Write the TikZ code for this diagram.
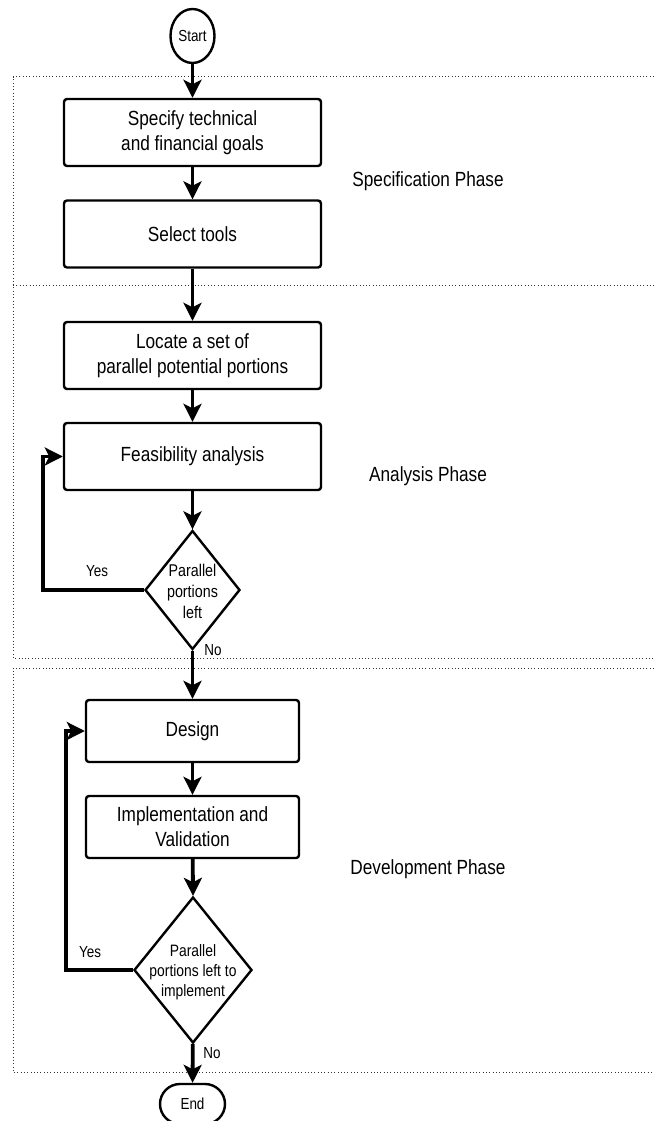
\documentclass[tikz,border=0pt]{standalone}
\usepackage{fontspec}
\setmainfont{Liberation Sans}[FakeStretch=0.84]
\usetikzlibrary{arrows.meta,shapes.geometric,shapes.misc}
\tikzset{
  box/.style={draw, line width=2.4pt, rounded corners=3pt, minimum width=257pt, minimum height=67pt, inner sep=0pt, align=center, font=\fontsize{20.5}{25}\selectfont},
  boxs/.style={box, minimum width=213pt, minimum height=62pt},
  dia/.style={draw, diamond, line width=2.4pt, inner sep=0pt},
  diatext/.style={align=center, inner sep=0pt},
  arr/.style={line width=3.8pt, -{Stealth[length=18pt,width=18pt,inset=4.5pt]}},
  loop/.style={arr, rounded corners=0pt},
  region/.style={line width=1pt, dash pattern=on 1pt off 2.3pt, black!80},
  phase/.style={font=\fontsize{20.5}{25}\selectfont},
  yn/.style={font=\fontsize{16}{19}\selectfont, inner sep=0pt}
}
\begin{document}
\begin{tikzpicture}[x=1pt,y=-1pt]
\useasboundingbox (0,0) rectangle (654,1121);
\fill[white] (0,0) rectangle (654,1121);
\begin{scope}
\clip (0,0) rectangle (654,1121);
% phase regions
\draw[region] (654,77) -- (13,77) -- (13,658) -- (654,658);
\draw[region] (13,285) -- (654,285);
\draw[region] (654,668) -- (13,668) -- (13,1072) -- (654,1072);

% nodes
\node[draw, ellipse, line width=2.4pt, minimum width=44pt, minimum height=54pt, inner sep=0pt, font=\fontsize{16}{19}\selectfont] (start) at (192.5,36) {Start};
\node[box] (b1) at (192.5,132.5) {Specify technical\\and financial goals};
\node[box] (b2) at (192.5,234) {Select tools};
\node[box] (b3) at (192.5,355.5) {Locate a set of\\parallel potential portions};
\node[box] (b4) at (192.5,456.5) {Feasibility analysis};
\node[dia, minimum width=95pt, minimum height=119pt] (d1) at (192.5,590) {};
\node[diatext, font=\fontsize{17}{21}\selectfont] (d1t) at (192.5,591) {Parallel\\portions\\left};
\node[boxs] (b5) at (192.5,731) {Design};
\node[boxs] (b6) at (192.5,827) {Implementation and\\Validation};
\node[dia, minimum width=118pt, minimum height=146pt] (d2) at (193,970) {};
\node[diatext, font=\fontsize{16.5}{20}\selectfont] (d2t) at (193,972) {Parallel\\portions left to\\implement};
\node[draw, rounded rectangle, line width=2.4pt, minimum width=65pt, minimum height=40pt, inner sep=0pt, font=\fontsize{16}{19}\selectfont] (end) at (192.5,1104) {End};

% phase labels
\node[phase] (p1) at (428,181) {Specification Phase};
\node[phase] (p2) at (428,476) {Analysis Phase};
\node[phase] (p3) at (428,869) {Development Phase};

% yes/no labels
\node[yn] (y1l) at (97,571) {Yes};
\node[yn] (n1l) at (213,650) {No};
\node[yn] (y2l) at (90,952) {Yes};
\node[yn] (n2l) at (212,1053) {No};

% connectors
\draw[arr] (start) -- (b1);
\draw[arr] (b1) -- (b2);
\draw[arr] (b2) -- (b3);
\draw[arr] (b3) -- (b4);
\draw[arr] (b4) -- (d1);
\coordinate (c1) at (43,590);
\draw[loop] (d1.west) -- (c1) |- (b4.west);
\draw[arr] (d1) -- (b5);
\draw[arr] (b5) -- (b6);
\draw[arr] (b6) -- (d2.north);
\coordinate (c2) at (66,970);
\draw[loop] (d2.west) -- (c2) |- (b5.west);
\draw[arr] (d2) -- (end);
\end{scope}
\end{tikzpicture}
\end{document}
